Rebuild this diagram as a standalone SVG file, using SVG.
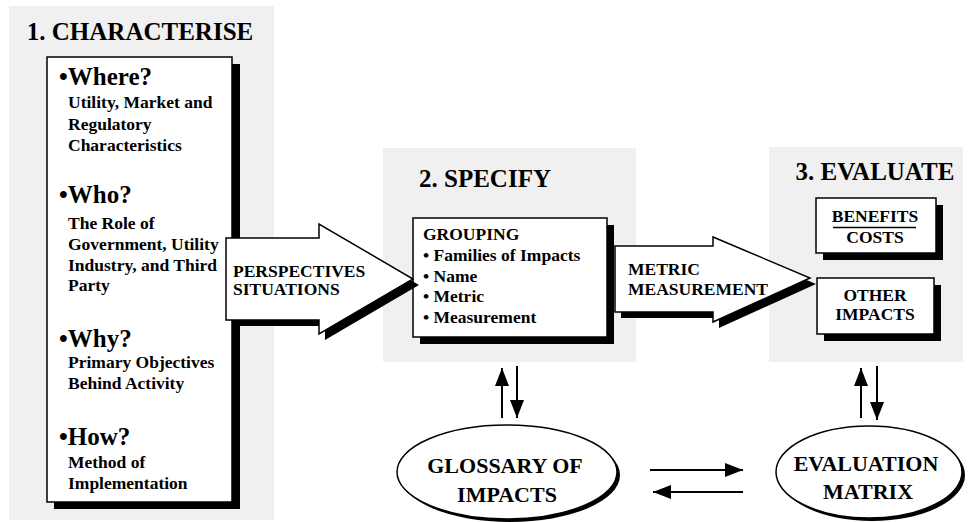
<svg xmlns="http://www.w3.org/2000/svg" width="970" height="522" viewBox="0 0 970 522">
  <defs>
    <style>
      .panel { fill: #f0f0f0; }
      .box { fill: #ffffff; stroke: #000; stroke-width: 1.5; }
      .shadow { fill: #000; }
      .t { font-family: "Liberation Serif", "Times New Roman", serif; font-weight: bold; fill: #000; }
      .title { font-size: 25px; }
      .head { font-size: 25px; }
      .body { font-size: 17.5px; }
      .oval { font-size: 22px; }
      .line { stroke: #000; stroke-width: 2; fill: none; }
    </style>
    <marker id="ah" markerUnits="userSpaceOnUse" markerWidth="18" markerHeight="14" refX="18" refY="7" orient="auto">
      <path d="M0,0 L18,7 L0,14 Z" fill="#000"/>
    </marker>
  </defs>

  <rect width="970" height="522" fill="#ffffff"/>

  <!-- Panel 1: Characterise -->
  <g id="characterise">
    <rect class="panel" x="9" y="6" width="265" height="514"/>
    <text class="t title" x="140" y="40" text-anchor="middle">1. CHARACTERISE</text>
    <rect class="shadow" x="54" y="64" width="186" height="445"/>
    <rect class="box" x="47" y="57" width="185" height="445"/>
    <text class="t head" x="59" y="85">•Where?</text>
    <text class="t body" x="68" y="108">Utility, Market and</text>
    <text class="t body" x="68" y="130">Regulatory</text>
    <text class="t body" x="68" y="151">Characteristics</text>
    <text class="t head" x="59" y="203">•Who?</text>
    <text class="t body" x="68" y="229">The Role of</text>
    <text class="t body" x="68" y="250">Government, Utility</text>
    <text class="t body" x="68" y="271">Industry, and Third</text>
    <text class="t body" x="68" y="291">Party</text>
    <text class="t head" x="59" y="347">•Why?</text>
    <text class="t body" x="68" y="368">Primary Objectives</text>
    <text class="t body" x="68" y="389">Behind Activity</text>
    <text class="t head" x="59" y="445">•How?</text>
    <text class="t body" x="68" y="468">Method of</text>
    <text class="t body" x="68" y="489">Implementation</text>
  </g>

  <!-- Panel 2: Specify -->
  <g id="specify">
    <rect class="panel" x="383" y="148" width="253" height="214"/>
    <text class="t title" x="485" y="187" text-anchor="middle">2. SPECIFY</text>
    <rect class="shadow" x="420" y="225" width="194" height="119"/>
    <rect class="box" x="413" y="218" width="194" height="119"/>
    <text class="t body" x="423" y="240">GROUPING</text>
    <text class="t body" x="423" y="261">• Families of Impacts</text>
    <text class="t body" x="423" y="282">• Name</text>
    <text class="t body" x="423" y="302">• Metric</text>
    <text class="t body" x="423" y="323">• Measurement</text>
  </g>

  <!-- Panel 3: Evaluate -->
  <g id="evaluate">
    <rect class="panel" x="769" y="147" width="194" height="215"/>
    <text class="t title" x="875" y="180" text-anchor="middle">3. EVALUATE</text>
  </g>

  <g id="benefits-costs">
    <rect class="shadow" x="823" y="205" width="120" height="55"/>
    <rect class="box" x="816" y="198" width="120" height="55"/>
    <text class="t body" x="875" y="222" text-anchor="middle">BENEFITS</text>
    <line x1="833" y1="227.5" x2="916" y2="227.5" stroke="#000" stroke-width="1.5"/>
    <text class="t body" x="875" y="243" text-anchor="middle">COSTS</text>
  </g>

  <g id="other-impacts">
    <rect class="shadow" x="824" y="285" width="117" height="56"/>
    <rect class="box" x="817" y="278" width="117" height="56"/>
    <text class="t body" x="875" y="301" text-anchor="middle">OTHER</text>
    <text class="t body" x="875" y="320" text-anchor="middle">IMPACTS</text>
  </g>

  <g id="glossary">
    <ellipse class="shadow" cx="510" cy="475" rx="110" ry="47"/>
    <ellipse class="box" cx="507" cy="472" rx="110" ry="47"/>
    <text class="t oval" x="505" y="473" text-anchor="middle">GLOSSARY OF</text>
    <text class="t oval" x="507" y="502" text-anchor="middle">IMPACTS</text>
  </g>

  <g id="evaluation-matrix">
    <ellipse class="shadow" cx="872" cy="475" rx="93" ry="46"/>
    <ellipse class="box" cx="869" cy="472" rx="93" ry="46"/>
    <text class="t oval" x="866" y="471" text-anchor="middle">EVALUATION</text>
    <text class="t oval" x="868" y="499" text-anchor="middle">MATRIX</text>
  </g>

  <!-- Connectors -->
  <g id="connectors">
    <g id="arrow-perspectives">
      <polygon class="shadow" points="232,244 325,244 325,230 419,285 325,340 325,326 232,326"/>
      <polygon class="box" points="226,238 319,238 319,224 413,279 319,334 319,320 226,320"/>
      <text class="t body" x="233" y="277">PERSPECTIVES</text>
      <text class="t body" x="233" y="295">SITUATIONS</text>
    </g>
    <g id="arrow-metric">
      <polygon class="shadow" points="621,252 719,252 719,243 816,284 719,328 719,318 621,318"/>
      <polygon class="box" points="615,246 713,246 713,237 810,278 713,322 713,312 615,312"/>
      <text class="t body" x="628" y="275">METRIC</text>
      <text class="t body" x="628" y="295">MEASUREMENT</text>
    </g>
    <line class="line" x1="502" y1="418" x2="502" y2="368" marker-end="url(#ah)"/>
    <line class="line" x1="517" y1="366" x2="517" y2="418" marker-end="url(#ah)"/>
    <line class="line" x1="861" y1="418" x2="861" y2="368" marker-end="url(#ah)"/>
    <line class="line" x1="877" y1="366" x2="877" y2="420" marker-end="url(#ah)"/>
    <line class="line" x1="650" y1="470" x2="743" y2="470" marker-end="url(#ah)"/>
    <line class="line" x1="743" y1="492" x2="653" y2="492" marker-end="url(#ah)"/>
  </g>
</svg>
